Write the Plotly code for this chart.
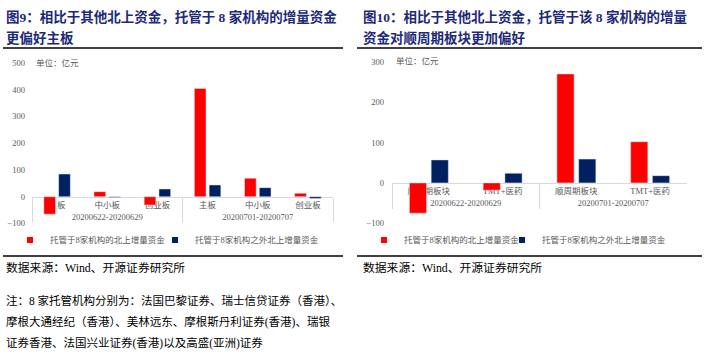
import plotly.graph_objects as go

W, H = 705, 358

# ---------------- data ----------------
periods_a = ["20200622-20200629"] * 3 + ["20200701-20200707"] * 3
boards = ["主板", "中小板", "创业板", "主板", "中小板", "创业板"]
board_in8 = [-65, 19, -31, 405, 69, 13]
board_out8 = [85, -3, 29, 44, 34, -7]

periods_b = ["20200622-20200629"] * 2 + ["20200701-20200707"] * 2
sectors = ["顺周期板块", "TMT+医药", "顺周期板块", "TMT+医药"]
sector_in8 = [-75, -18, 270, 102]
sector_out8 = [57, 24, 59, 18]

name_in8 = "托管于8家机构的北上增量资金"
name_out8 = "托管于8家机构之外北上增量资金"

ticks_a = [-100, 0, 100, 200, 300, 400, 500]
ticks_b = [-100, 0, 100, 200, 300]

RED = "#FF0000"
NAVY = "#002060"
GRAY = "#595959"
LINE = "#D9D9D9"
TITLE = "#1c2a78"
SERIF = "Liberation Serif, Noto Sans CJK SC"
CJK = "Liberation Serif, Noto Sans CJK SC"


def px(x):
    return x / W


def py(y):
    return (H - y) / H


fig = go.Figure()

# left chart bars
fig.add_trace(go.Bar(x=[periods_a, boards], y=board_in8, name=name_in8,
                     marker_color=RED, xaxis="x", yaxis="y", showlegend=False))
fig.add_trace(go.Bar(x=[periods_a, boards], y=board_out8, name=name_out8,
                     marker_color=NAVY, xaxis="x", yaxis="y", showlegend=False))
# right chart bars
fig.add_trace(go.Bar(x=[periods_b, sectors], y=sector_in8, name=name_in8,
                     marker_color=RED, xaxis="x2", yaxis="y2", showlegend=False))
fig.add_trace(go.Bar(x=[periods_b, sectors], y=sector_out8, name=name_out8,
                     marker_color=NAVY, xaxis="x2", yaxis="y2", showlegend=False))

# legend entries (small square markers), one legend box per entry
legend_items = [(name_in8, RED, "legend", "x", "y"),
                (name_out8, NAVY, "legend2", "x", "y"),
                (name_in8, RED, "legend3", "x2", "y2"),
                (name_out8, NAVY, "legend4", "x2", "y2")]
for nm, col, lg, xa, ya in legend_items:
    fig.add_trace(go.Scatter(x=[None], y=[None], mode="markers", name=nm,
                             marker=dict(symbol="square", size=6, color=col),
                             xaxis=xa, yaxis=ya, legend=lg, showlegend=True))

axis_font = dict(family=SERIF, size=8.5, color=GRAY)

# left subplot geometry
yA_top, yA_bot = 63, 223.5
zeroA = yA_top + 500 / 600 * (yA_bot - yA_top)
# right subplot geometry
yB_top, yB_bot = 61.8, 223.3
zeroB = yB_top + 300 / 400 * (yB_bot - yB_top)

xaxis_common = dict(anchor="free", showline=True, linecolor=LINE, linewidth=1,
                    ticks="outside", ticklen=6, tickcolor="rgba(0,0,0,0)",
                    showgrid=False, zeroline=False, showdividers=True,
                    dividercolor=LINE, dividerwidth=1, tickfont=axis_font,
                    layer="below traces", automargin=False)
yaxis_common = dict(showgrid=False, zeroline=False, showline=False,
                    tickfont=axis_font, automargin=False,
                    ticklabeloverflow="allow")

leg_common = dict(orientation="h", xanchor="left", yanchor="middle",
                  font=dict(family=CJK, size=8.5, color=GRAY),
                  bgcolor="rgba(0,0,0,0)")

fig.update_layout(
    width=W, height=H,
    margin=dict(l=0, r=0, t=0, b=0, autoexpand=False),
    paper_bgcolor="white", plot_bgcolor="white",
    barmode="group", bargap=0.41, bargroupgap=0.21,
    xaxis=dict(domain=[px(32), px(333)], position=py(zeroA), **xaxis_common),
    yaxis=dict(domain=[py(yA_bot), py(yA_top)], range=[-100, 500],
               tickvals=ticks_a, ticklabelstandoff=6, anchor="x", **yaxis_common),
    xaxis2=dict(domain=[px(392), px(687)], position=py(zeroB), **xaxis_common),
    yaxis2=dict(domain=[py(yB_bot), py(yB_top)], range=[-100, 300],
                tickvals=ticks_b, ticklabelstandoff=7, anchor="x2", **yaxis_common),
    legend=dict(x=px(10), y=py(240), **leg_common),
    legend2=dict(x=px(155), y=py(240), **leg_common),
    legend3=dict(x=px(364), y=py(240), **leg_common),
    legend4=dict(x=px(502), y=py(240), **leg_common),
)

annotations = []


def text(x, y, s, size, color="black", bold=False):
    annotations.append(dict(
        x=px(x), y=py(y), xref="paper", yref="paper", xanchor="left",
        yanchor="middle", showarrow=False,
        text=("<b>%s</b>" % s) if bold else s,
        font=dict(family=CJK, size=size, color=color)))


# titles
text(4, 17, "图9：相比于其他北上资金，托管于 8 家机构的增量资金", 13.5, TITLE, True)
text(4, 38, "更偏好主板", 13.5, TITLE, True)
text(361, 17, "图10：相比于其他北上资金，托管于该 8 家机构的增量", 13.5, TITLE, True)
text(361, 38, "资金对顺周期板块更加偏好", 13.5, TITLE, True)

# units
text(34, 63, "单位：亿元", 8.5, GRAY)
text(394, 61, "单位：亿元", 8.5, GRAY)

# sources
text(4, 268, "数据来源：Wind、开源证券研究所", 11.8)
text(361, 268, "数据来源：Wind、开源证券研究所", 11.8)

# note
text(4, 300, "注：8 家托管机构分别为：法国巴黎证券、瑞士信贷证券（香港）、", 11.5)
text(4, 322, "摩根大通经纪（香港）、美林远东、摩根斯丹利证券(香港)、瑞银", 11.5)
text(4, 343, "证券香港、法国兴业证券(香港)以及高盛(亚洲)证券", 11.5)

fig.update_layout(annotations=annotations)

shapes = []
for (x0, x1) in [(3, 343), (357, 702)]:
    for yy in (48, 256):
        shapes.append(dict(type="line", xref="paper", yref="paper",
                           x0=px(x0), x1=px(x1), y0=py(yy), y1=py(yy),
                           line=dict(color="black", width=1.5)))
fig.update_layout(shapes=shapes)

fig.write_html("out.html",
               config={"displayModeBar": False},
               post_script="document.body.style.margin='0';"
                           "document.body.style.overflow='hidden';")
